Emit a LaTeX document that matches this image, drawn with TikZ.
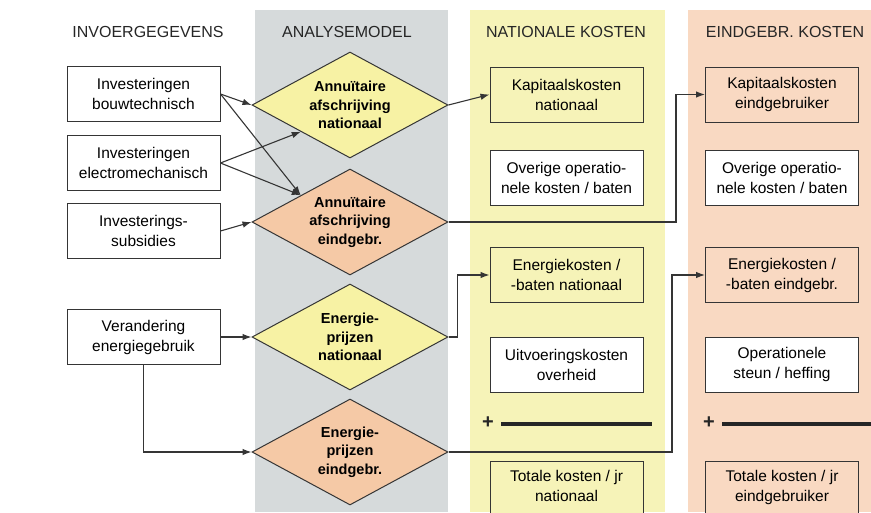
\documentclass[tikz,border=0pt]{standalone}
\usepackage{fontspec}
\setmainfont{Liberation Sans}
\usepackage{xcolor}
\usepackage{tikz}
\usetikzlibrary{shapes,arrows.meta}
\usetikzlibrary{positioning}

\definecolor{bandgray}{HTML}{D6DADB}
\definecolor{bandyellow}{HTML}{F6F3B8}
\definecolor{bandorange}{HTML}{F9D9C2}
\definecolor{diayellow}{HTML}{F7F2A4}
\definecolor{diaorange}{HTML}{F5C9A6}
\definecolor{edgegray}{HTML}{353535}

\begin{document}
\begin{tikzpicture}[x=1pt, y=-1pt,
			box/.style={
					rectangle,
					draw=edgegray,
					line width=1pt,
					fill=white,
					minimum width=153pt,
					minimum height=55pt,
					align=center,
					inner sep=0pt,
					font=\fontsize{15.5}{20}\selectfont
				},
			natbox/.style={box, fill=bandyellow},
			endbox/.style={box, fill=bandorange},
			choice/.style={
					diamond,
					draw=edgegray,
					line width=1pt,
					minimum width=196pt,
					minimum height=106pt,
					shape aspect=1.85,
					inner sep=0pt,
					align=center,
					font=\fontsize{14.5}{18.5}\selectfont\bfseries
				},
			header/.style={font=\fontsize{16}{18}\selectfont, text=black!85},
			line/.style={draw=edgegray, line width=1.1pt, -{Latex[length=9pt, width=6.5pt]}},
			total/.style={line width=4pt, draw=black!85},
			plus/.style={font=\fontsize{20}{20}\selectfont\bfseries, text=black!85}
		]
		\useasboundingbox (0,0) rectangle (871,512);
		% Background columns
		\fill [bandgray] (255,10) rectangle (448,512);
		\fill [bandyellow] (470,10) rectangle (665,512);
		\fill [bandorange] (688,10) rectangle (875,512);
		% Column titles
		\node [header] (h1) at (148,32) {INVOERGEGEVENS};
		\node [header] (h2) at (347,32) {ANALYSEMODEL};
		\node [header] (h3) at (566,32) {NATIONALE KOSTEN};
		\node [header] (h4) at (785,32) {EINDGEBR. KOSTEN};
		% Place nodes
		\node [box] (bouw) at (143.5,94) {Investeringen\\bouwtechnisch};
		\node [box] (elec) at (143.5,163) {Investeringen\\electromechanisch};
		\node [box] (subs) at (143.5,231) {Investerings-\\subsidies};
		\node [box] (energie) at (143.5,337) {Verandering\\energiegebruik};
		\node [choice, fill=diayellow] (annnat) at (350,105) {Annu\"{\i}taire\\afschrijving\\nationaal};
		\node [choice, fill=diaorange] (annend) at (350,222) {Annu\"{\i}taire\\afschrijving\\eindgebr.};
		\node [choice, fill=diayellow] (prijsnat) at (350,337) {Energie-\\prijzen\\nationaal};
		\node [choice, fill=diaorange] (prijsend) at (350,452) {Energie-\\prijzen\\eindgebr.};
		\node [natbox] (kapnat) at (566.5,94.5) {Kapitaalskosten\\nationaal};
		\node [box] (overnat) at (566.5,178) {Overige operatio-\\nele kosten / baten};
		\node [natbox] (ennat) at (566.5,275) {Energiekosten /\\-baten nationaal};
		\node [box] (uitv) at (566.5,364.5) {Uitvoeringskosten\\overheid};
		\node [natbox, minimum height=62pt, text depth=12pt] (totnat) at (566.5,492) {Totale kosten / jr\\nationaal};
		\node [endbox] (kapend) at (782,94.5) {Kapitaalskosten\\eindgebruiker};
		\node [box] (overend) at (782,178) {Overige operatio-\\nele kosten / baten};
		\node [endbox] (enend) at (782,275) {Energiekosten /\\-baten eindgebr.};
		\node [box] (steun) at (782,364.5) {Operationele\\steun / heffing};
		\node [endbox, minimum height=62pt, text depth=12pt] (totend) at (782,492) {Totale kosten / jr\\eindgebruiker};
		% Sum lines
		\node [plus] (plusnat) at (488,423) {+};
		\node [plus] (plusend) at (709,423) {+};
		\draw [total] (plusnat.east) ++(4,1) -- (652,424);
		\draw [total] (plusend.east) ++(4,1) -- (875,424);
		% Draw edges
		\path [line] (bouw.east) -- (annnat.west);
		\path [line] (bouw.east) -- (annend.north west);
		\path [line] (elec.east) -- (annnat.south west);
		\path [line] (elec.east) -- (annend.north west);
		\path [line] (subs.east) -- (annend.west);
		\path [line] (energie.east) -- (prijsnat.west);
		\path [line] (energie.south) |- (prijsend.west);
		\path [line] (annnat.east) -- (kapnat.west);
		\path [line] (annend.east) -- ([xshift=-29]kapend.west |- annend.east) |- (kapend.west);
		\path [line] (prijsnat.east) -- ([xshift=-32]ennat.west |- prijsnat.east) |- (ennat.west);
		\path [line] (prijsend.east) -- ([xshift=-33]enend.west |- prijsend.east) |- (enend.west);
	\end{tikzpicture}
\end{document}
